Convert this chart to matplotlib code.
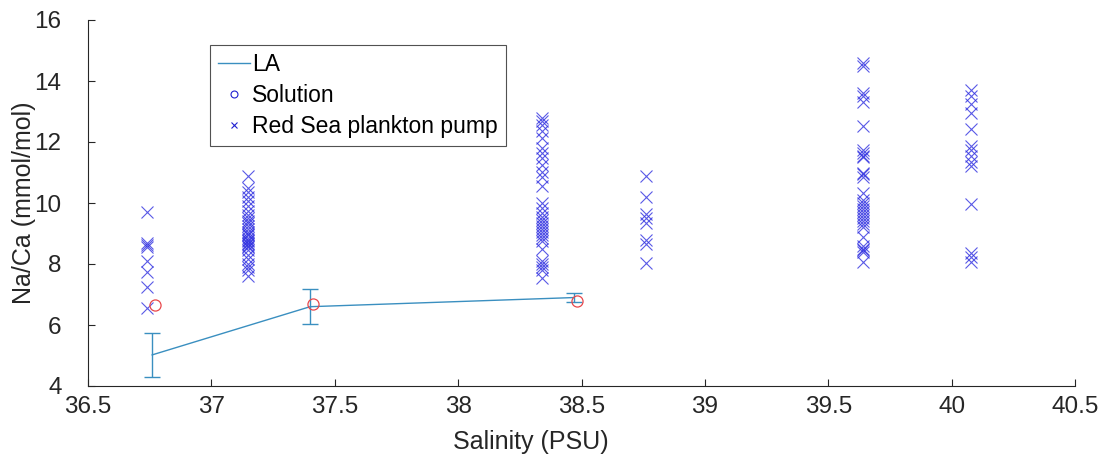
import matplotlib
matplotlib.use("Agg")
import matplotlib.pyplot as plt
from matplotlib.lines import Line2D

plt.rcParams['font.family'] = ['Liberation Sans', 'DejaVu Sans']

# LA (laser ablation) means with error bars
la_sal = [36.76, 37.40, 38.47]
la_naca = [5.02, 6.60, 6.90]
la_err = [0.72, 0.58, 0.15]

# Solution values
sol_sal = [36.77, 37.41, 38.48]
sol_naca = [6.65, 6.68, 6.80]

# Red Sea plankton pump, by station salinity
pump_sal = [36.74, 37.15, 38.34, 38.76, 39.64, 40.08]
pump_naca = [
    [9.7, 8.7, 8.62, 8.55, 8.1, 7.75, 7.25, 6.55],
    [10.9, 10.5, 10.35, 10.2, 10.05, 9.9, 9.75, 9.6, 9.5, 9.42, 9.35, 9.25,
     9.15, 9.05, 9.0, 8.95, 8.85, 8.8, 8.75, 8.7, 8.65, 8.6, 8.55, 8.45,
     8.3, 8.15, 8.0, 7.9, 7.8, 7.6],
    [12.8, 12.7, 12.55, 12.35, 12.13, 11.8, 11.64, 11.48, 11.25, 11.03,
     10.86, 10.55, 10.0, 9.83, 9.67, 9.55, 9.45, 9.35, 9.25, 9.15, 9.05,
     8.95, 8.85, 8.75, 8.5, 8.1, 8.0, 7.9, 7.8, 7.55],
    [10.88, 10.2, 9.65, 9.5, 9.35, 8.8, 8.65, 8.03],
    [14.6, 14.5, 13.62, 13.52, 13.32, 12.52, 11.75, 11.65, 11.55, 11.5,
     11.0, 10.95, 10.85, 10.33, 10.1, 10.0, 9.9, 9.8, 9.7, 9.6, 9.5, 9.4,
     9.3, 9.2, 8.9, 8.6, 8.5, 8.45, 8.4, 8.05],
    [13.7, 13.5, 13.25, 12.95, 12.43, 11.87, 11.74, 11.54, 11.34, 11.2,
     9.97, 8.35, 8.24, 8.07],
]

line_col = '#3a8fc0'
x_col = '#3030e0'
circ_col = '#e8474b'

fig = plt.figure(figsize=(11.08, 4.63), dpi=100)
ax = fig.add_axes([88 / 1108, 77 / 463, 987 / 1108, 366 / 463])

ax.errorbar(la_sal, la_naca, yerr=la_err, color=line_col, lw=1.0,
            capsize=6, capthick=1.0, elinewidth=1.0, zorder=3)
ax.plot(sol_sal, sol_naca, 'o', mfc='none', mec=circ_col, ms=8, mew=0.9,
        zorder=4)
for s, vals in zip(pump_sal, pump_naca):
    ax.plot([s] * len(vals), vals, 'x', color=x_col, ms=8, mew=0.8,
            alpha=0.8, zorder=2)

ax.set_xlim(36.5, 40.5)
ax.set_ylim(4, 16)
ax.set_xticks([36.5, 37, 37.5, 38, 38.5, 39, 39.5, 40, 40.5])
ax.set_xticklabels(['36.5', '37', '37.5', '38', '38.5', '39', '39.5', '40',
                    '40.5'])
ax.set_yticks(range(4, 17, 2))
for sp in ['top', 'right']:
    ax.spines[sp].set_visible(False)
for sp in ['left', 'bottom']:
    ax.spines[sp].set_color('#262626')
    ax.spines[sp].set_linewidth(0.8)
ax.tick_params(direction='in', length=5, width=0.8, colors='#262626',
               labelsize=17.5)
ax.tick_params(axis='x', pad=7)
ax.tick_params(axis='y', pad=19)
ax.set_xlabel('Salinity (PSU)', fontsize=18, color='#262626')
ax.set_ylabel('Na/Ca (mmol/mol)', fontsize=18, color='#262626')
ax.xaxis.set_label_coords(0.449, -0.12)
ax.yaxis.set_label_coords(-0.053, 0.5)

handles = [
    Line2D([], [], color=line_col, lw=1.0),
    Line2D([], [], ls='none', marker='o', mfc='none', mec='#2020d0', ms=5,
           mew=0.8),
    Line2D([], [], ls='none', marker='x', color='#2020d0', ms=5, mew=0.8),
]
leg = ax.legend(handles, ['LA', 'Solution', 'Red Sea plankton pump'],
                loc='upper left', bbox_to_anchor=(0.1236, 0.9317),
                fontsize=16.5, frameon=True, fancybox=False,
                handlelength=1.4, handletextpad=0.1,
                borderpad=0.35, labelspacing=0.35, borderaxespad=0)
leg.get_frame().set_edgecolor('#262626')
leg.get_frame().set_linewidth(0.8)

fig.savefig('out.png', dpi=100)
